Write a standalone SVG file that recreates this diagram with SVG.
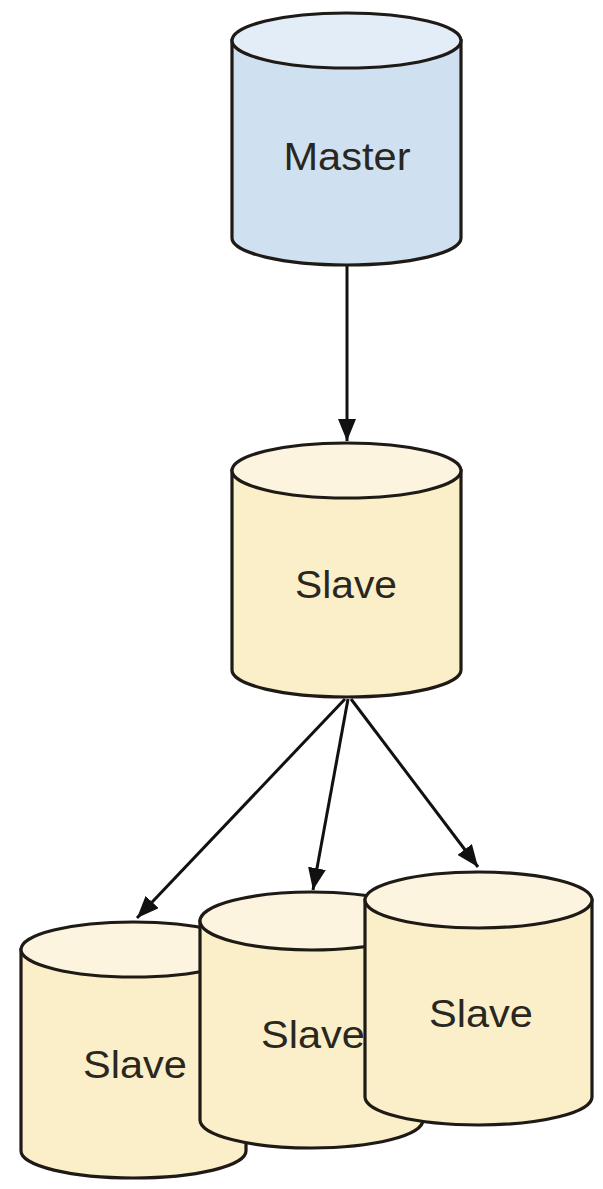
<svg xmlns="http://www.w3.org/2000/svg" width="603" height="1189" viewBox="0 0 603 1189">
  <style>
    .edge { stroke: #111; stroke-width: 3; fill: none; }
    .cyl { stroke: #1e1a16; stroke-width: 3.2; }
    .master .body { fill: #cfe0f1; }
    .master .lid { fill: #e2edf8; }
    .slave .body { fill: #fbefc9; }
    .slave .lid { fill: #fcf4de; }
    .label { font-family: "Liberation Sans", Arial, sans-serif; font-size: 38px; fill: #2a2620; text-anchor: middle; }
  </style>
  <defs>
    <marker id="head" viewBox="0 0 22 18" refX="22" refY="9" markerWidth="22" markerHeight="18" markerUnits="userSpaceOnUse" orient="auto">
      <path d="M0,0 L22,9 L0,18 Z" fill="#111"/>
    </marker>
  </defs>

  <!-- connectors -->
  <g id="connectors">
    <line class="edge" x1="347" y1="266" x2="347" y2="441" marker-end="url(#head)"/>
    <line class="edge" x1="345" y1="699" x2="137" y2="918" marker-end="url(#head)"/>
    <line class="edge" x1="348" y1="699" x2="313" y2="890" marker-end="url(#head)"/>
    <line class="edge" x1="351" y1="699" x2="478" y2="867" marker-end="url(#head)"/>
  </g>

  <!-- master database -->
  <g id="master" class="master">
    <path class="cyl body" d="M232,40.5 L232,238 A114.5,27 0 0 0 461,238 L461,40.5 Z"/>
    <ellipse class="cyl lid" cx="346.5" cy="40.5" rx="114.5" ry="27.5"/>
    <text class="label" x="347" y="170" textLength="127" lengthAdjust="spacingAndGlyphs">Master</text>
  </g>

  <!-- first-level replica -->
  <g id="slave-main" class="slave">
    <path class="cyl body" d="M232,470.5 L232,670 A114.5,27 0 0 0 461,670 L461,470.5 Z"/>
    <ellipse class="cyl lid" cx="346.5" cy="470.5" rx="114.5" ry="27.5"/>
    <text class="label" x="346" y="598" textLength="102" lengthAdjust="spacingAndGlyphs">Slave</text>
  </g>

  <!-- second-level replicas, back to front -->
  <g id="slave-left" class="slave">
    <path class="cyl body" d="M21,949.5 L21,1151 A112.5,27 0 0 0 246,1151 L246,949.5 Z"/>
    <ellipse class="cyl lid" cx="133.5" cy="949.5" rx="112.5" ry="27.5"/>
    <text class="label" x="135" y="1078" textLength="104" lengthAdjust="spacingAndGlyphs">Slave</text>
  </g>

  <g id="slave-middle" class="slave">
    <path class="cyl body" d="M200,921 L200,1120 A111.5,28 0 0 0 423,1120 L423,921 Z"/>
    <ellipse class="cyl lid" cx="311.5" cy="921" rx="111.5" ry="29"/>
    <text class="label" x="313" y="1048" textLength="104" lengthAdjust="spacingAndGlyphs">Slave</text>
  </g>

  <g id="slave-right" class="slave">
    <path class="cyl body" d="M365,900 L365,1097 A113.5,28 0 0 0 592,1097 L592,900 Z"/>
    <ellipse class="cyl lid" cx="478.5" cy="900" rx="113.5" ry="28"/>
    <text class="label" x="481" y="1027" textLength="104" lengthAdjust="spacingAndGlyphs">Slave</text>
  </g>
</svg>
